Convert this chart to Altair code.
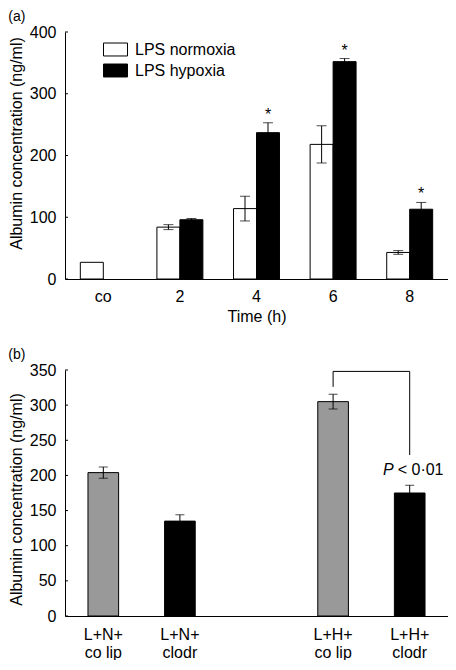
import altair as alt
import pandas as pd

FONT = "Liberation Sans"

# ---------------- panel (a) data ----------------
times = ["co", "2", "4", "6", "8"]
conds = ["LPS normoxia", "LPS hypoxia"]
norm_mean = [27, 84, 114, 218, 43]
norm_err = [None, 4, 20, 30, 3]
hyp_mean = [None, 96, 237, 352, 113]
hyp_err = [None, 2, 16, 5, 11]
hyp_sig = [False, False, True, True, True]
yticks_a = [0, 100, 200, 300, 400]

# ---------------- panel (b) data ----------------
groups_b = ["L+N+|co lip", "L+N+|clodr", "L+H+|co lip", "L+H+|clodr"]
domain_b = ["L+N+|co lip", "L+N+|clodr", "gap", "L+H+|co lip", "L+H+|clodr"]
treat_b = ["co lip", "clodr", "co lip", "clodr"]
mean_b = [204, 135, 305, 175]
err_b = [8, 9, 10.5, 11]
yticks_b = [0, 50, 100, 150, 200, 250, 300, 350]
bracket_top = 348
bracket_left_low = 326
bracket_right_low = 229
p_label_y = 201

W = 383
H1 = 247
H2 = 246

rows = []
for i, t in enumerate(times):
    if norm_mean[i] is not None:
        rows.append(dict(time=t, cond=conds[0], mean=norm_mean[i],
                         err=norm_err[i] if norm_err[i] is not None else 0, sig=False))
    if hyp_mean[i] is not None:
        rows.append(dict(time=t, cond=conds[1], mean=hyp_mean[i],
                         err=hyp_err[i] if hyp_err[i] is not None else 0, sig=hyp_sig[i]))
df_a = pd.DataFrame(rows)
df_a["lo"] = df_a["mean"] - df_a["err"]
df_a["hi"] = df_a["mean"] + df_a["err"]

YTITLE = "Albumin concentration (ng/ml)"

x_a = alt.X("time:N", sort=times,
            scale=alt.Scale(domain=times, paddingInner=0.4, paddingOuter=0.2),
            axis=alt.Axis(title="Time (h)", labelAngle=0, ticks=False, tickSize=0,
                          labelPadding=9, titlePadding=4))
xo_a = alt.XOffset("cond:N", sort=conds,
                   scale=alt.Scale(domain=conds, paddingInner=0, paddingOuter=0))
y_scale_a = alt.Scale(domain=[0, 400], nice=False)
y_axis_a = alt.Axis(values=yticks_a, ticks=False, tickSize=0, grid=False,
                    labelOverlap=False, title=YTITLE,
                    labelPadding=9, titlePadding=5, titleY=111)


def ya(field):
    return alt.Y(field, scale=y_scale_a, axis=y_axis_a, title=YTITLE)


bars_a = alt.Chart(df_a).mark_bar(stroke="black", strokeWidth=1).encode(
    x=x_a, xOffset=xo_a, y=ya("mean:Q"),
    fill=alt.Fill("cond:N", sort=conds,
                  scale=alt.Scale(domain=conds, range=["white", "black"]),
                  legend=alt.Legend(title=None, orient="none", legendX=38, legendY=5,
                                    symbolType="M-1,-0.54H1V0.54H-1Z", symbolSize=576,
                                    symbolStrokeColor="black", symbolStrokeWidth=1,
                                    labelFontSize=16, labelFont=FONT, labelColor="black",
                                    labelOffset=7, rowPadding=-1)),
)
err_base = alt.Chart(df_a).transform_filter("datum.err > 0")
err_rule_a = err_base.mark_rule(color="black", strokeWidth=1).encode(
    x=x_a, xOffset=xo_a, y=ya("lo:Q"), y2="hi:Q")
cap_hi_a = err_base.mark_tick(color="black", size=10, thickness=1).encode(
    x=x_a, xOffset=xo_a, y=ya("hi:Q"))
cap_lo_a = err_base.mark_tick(color="black", size=10, thickness=1).encode(
    x=x_a, xOffset=xo_a, y=ya("lo:Q"))
stars_a = alt.Chart(df_a).transform_filter("datum.sig").mark_text(
    text="*", font=FONT, fontSize=16, color="black", baseline="alphabetic", dy=-3
).encode(x=x_a, xOffset=xo_a, y=ya("hi:Q"))
ticks_a = alt.Chart(pd.DataFrame({"v": yticks_a})).mark_rule(color="black").encode(
    y=ya("v:Q"), x=alt.value(0), x2=alt.value(3))

top = alt.layer(bars_a, err_rule_a, cap_hi_a, cap_lo_a, stars_a, ticks_a).properties(
    width=W, height=H1,
    title=alt.TitleParams("(a)", anchor="start", frame="bounds", fontSize=14,
                          fontWeight="normal", font=FONT, color="black", offset=0),
)

# ---------------- panel (b) ----------------
df_b = pd.DataFrame({"grp": groups_b, "treat": treat_b, "mean": mean_b, "err": err_b})
df_b["lo"] = df_b["mean"] - df_b["err"]
df_b["hi"] = df_b["mean"] + df_b["err"]

x_scale_b = alt.Scale(domain=domain_b, paddingInner=0.6, paddingOuter=0.3)
x_axis_b = alt.Axis(title=None, labelAngle=0, ticks=False, tickSize=0,
                    labelPadding=10, labelLineHeight=18, labelBaseline="top",
                    labelExpr="datum.value == 'gap' ? '' : split(datum.value, '|')")
x_b = alt.X("grp:N", sort=domain_b, scale=x_scale_b, axis=x_axis_b)
y_scale_b = alt.Scale(domain=[0, 350], nice=False)
y_axis_b = alt.Axis(values=yticks_b, ticks=False, tickSize=0, grid=False,
                    labelOverlap=False, title=YTITLE,
                    labelPadding=9, titlePadding=5, titleY=129)


def yb(field):
    return alt.Y(field, scale=y_scale_b, axis=y_axis_b, title=YTITLE)


bars_b = alt.Chart(df_b).mark_bar(stroke="black", strokeWidth=1).encode(
    x=x_b, y=yb("mean:Q"),
    fill=alt.Fill("treat:N", scale=alt.Scale(domain=["co lip", "clodr"],
                                             range=["#999999", "black"]), legend=None),
)
err_rule_b = alt.Chart(df_b).mark_rule(color="black").encode(
    x=x_b, y=yb("lo:Q"), y2="hi:Q")
cap_hi_b = alt.Chart(df_b).mark_tick(color="black", size=9, thickness=1).encode(
    x=x_b, y=yb("hi:Q"))
cap_lo_b = alt.Chart(df_b).mark_tick(color="black", size=9, thickness=1).encode(
    x=x_b, y=yb("lo:Q"))

vert = pd.DataFrame({"grp": ["L+H+|co lip", "L+H+|clodr"],
                     "lo": [bracket_left_low, bracket_right_low],
                     "hi": [bracket_top, bracket_top]})
bracket_v = alt.Chart(vert).mark_rule(color="black").encode(
    x=x_b, y=yb("lo:Q"), y2="hi:Q")
horiz = pd.DataFrame({"grp": ["L+H+|co lip"], "g2": ["L+H+|clodr"], "y": [bracket_top]})
bracket_h = alt.Chart(horiz).mark_rule(color="black").encode(
    x=x_b, x2="g2:N", y=yb("y:Q"))

ptxt = pd.DataFrame({"grp": ["L+H+|clodr"], "y": [p_label_y]})
p_italic = alt.Chart(ptxt).mark_text(text="P", font=FONT, fontSize=16, fontStyle="italic",
                                     color="black", align="right", baseline="alphabetic",
                                     dx=-16).encode(x=x_b, y=yb("y:Q"))
p_rest = alt.Chart(ptxt).mark_text(text="< 0·01", font=FONT, fontSize=16,
                                   color="black", align="left", baseline="alphabetic",
                                   dx=-12).encode(x=x_b, y=yb("y:Q"))
ticks_b = alt.Chart(pd.DataFrame({"v": yticks_b})).mark_rule(color="black").encode(
    y=yb("v:Q"), x=alt.value(0), x2=alt.value(3))

bottom = alt.layer(bars_b, err_rule_b, cap_hi_b, cap_lo_b, bracket_v, bracket_h,
                   p_italic, p_rest, ticks_b).properties(
    width=W, height=H2,
    title=alt.TitleParams("(b)", anchor="start", frame="bounds", fontSize=14,
                          fontWeight="normal", font=FONT, color="black", offset=0),
)

chart = alt.vconcat(top, bottom, spacing=24).resolve_scale(
    x="independent", y="independent", fill="independent"
).resolve_axis(x="independent", y="independent").resolve_legend(fill="independent").properties(
    padding={"left": 0, "top": 2, "right": 0, "bottom": 0}
).configure_axis(
    labelFont=FONT, titleFont=FONT, labelFontSize=16, titleFontSize=16,
    labelColor="black", titleColor="black", domainColor="black", domainWidth=1,
    titleFontWeight="normal",
).configure_view(stroke=None)

chart.save("out.html", embed_options={"renderer": "svg", "actions": False})
